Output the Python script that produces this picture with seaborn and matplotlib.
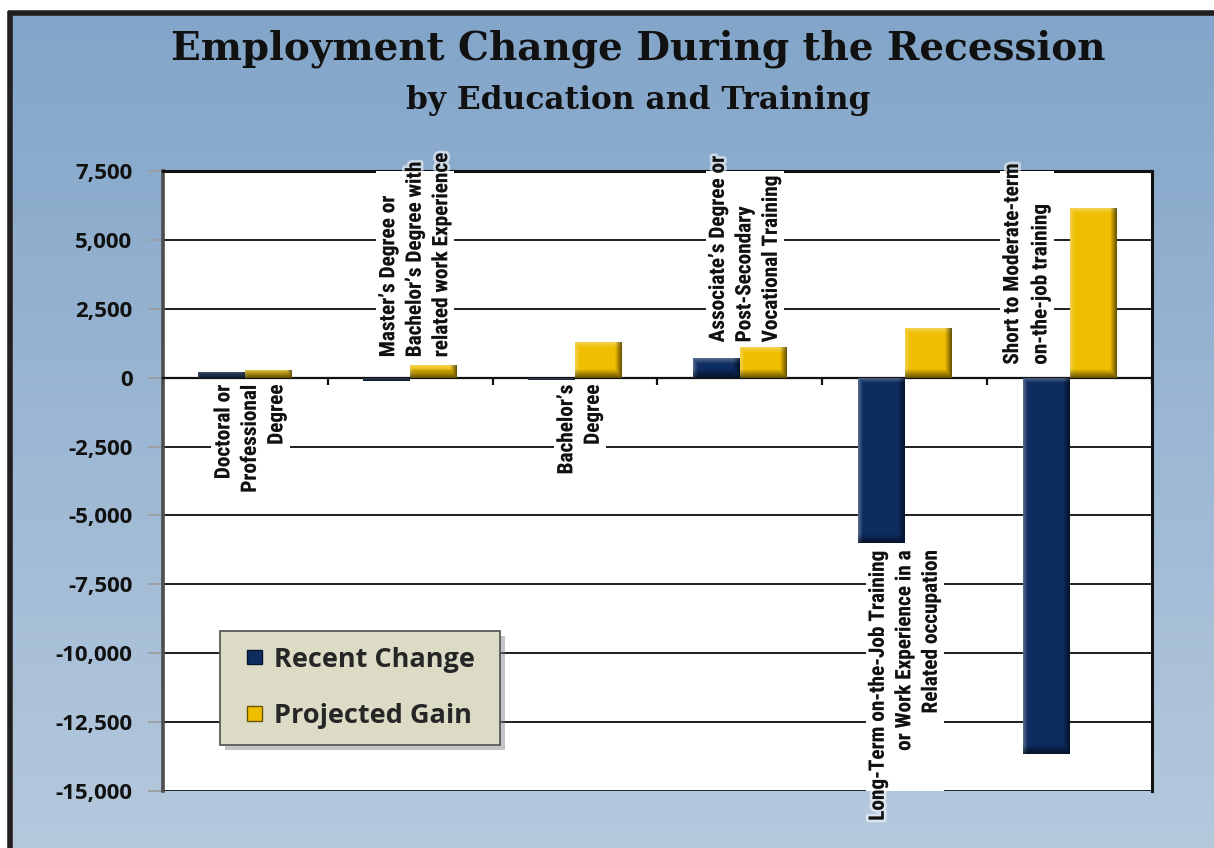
import numpy as np
import pandas as pd
import matplotlib
matplotlib.use("Agg")
import matplotlib.pyplot as plt
import matplotlib.patheffects as pe
import seaborn as sns
from matplotlib.patches import Patch, Rectangle
from matplotlib.ticker import FuncFormatter

# ---- data -------------------------------------------------------------
categories = [
    "Doctoral or\nProfessional\nDegree",
    "Master\u2019s Degree or\nBachelor\u2019s Degree with\nrelated work Experience",
    "Bachelor\u2019s\nDegree",
    "Associate\u2019s Degree or\nPost-Secondary\nVocational Training",
    "Long-Term on-the-Job Training\nor Work Experience in a\nRelated occupation",
    "Short to Moderate-term\non-the-job training",
]
recent_change = [190, -130, -70, 700, -6000, -13650]
projected_gain = [280, 450, 1280, 1100, 1800, 6150]
series_names = ["Recent Change", "Projected Gain"]
y_ticks = [7500, 5000, 2500, 0, -2500, -5000, -7500, -10000, -12500, -15000]

title = "Employment Change During the Recession"
subtitle = "by Education and Training"

# ---- style ------------------------------------------------------------
NAVY = "#0d2c60"
GOLD = "#efbe00"
NARROW = ["Roboto Condensed", "Liberation Sans Narrow", "Roboto", "DejaVu Sans"]
SERIF = ["DejaVu Serif Condensed", "DejaVu Serif"]
sns.set_theme(style="white")
plt.rcParams["font.family"] = ["Open Sans", "DejaVu Sans"]

W, H = 1214, 848
fig = plt.figure(figsize=(W / 100, H / 100), dpi=100)
fig.patch.set_facecolor("white")


def fx(px):
    return px / W


def fy(py):
    return 1 - py / H


# background panel: soft blue vertical gradient with a dark frame
bg = fig.add_axes([0, 0, 1, 1], zorder=0)
bg.set_xlim(0, W)
bg.set_ylim(H, 0)
bg.axis("off")
top_c = np.array([0x82, 0xa5, 0xc9]) / 255
bot_c = np.array([0xb5, 0xc9, 0xdd]) / 255
t = np.linspace(0, 1, 256)[:, None]
grad = top_c + (bot_c - top_c) * t
img = np.repeat(grad[:, None, :], 2, axis=1)
bg.imshow(img, extent=(10, W, H, 13), aspect="auto", interpolation="bilinear")
bg.plot([9.5, 9.5], [11, H], color="#231f20", lw=4.0, solid_capstyle="butt")
bg.plot([7.5, W], [12.5, 12.5], color="#231f20", lw=4.0, solid_capstyle="butt")

# ---- bars -------------------------------------------------------------
ax = fig.add_axes([fx(163), fy(791), fx(1152 - 163), (791 - 171) / H], zorder=2)
df = pd.DataFrame({
    "Category": categories * 2,
    "Series": [series_names[0]] * len(categories) + [series_names[1]] * len(categories),
    "Value": recent_change + projected_gain,
})
sns.barplot(data=df, x="Category", y="Value", hue="Series", order=categories,
            hue_order=series_names, palette=[NAVY, GOLD], saturation=1,
            width=0.57, legend=False, ax=ax, zorder=3, linewidth=0)

XLIM = (-0.5, len(categories) - 0.5)
YLIM = (-15000, 7500)
ax.set_xlim(*XLIM)
ax.set_ylim(*YLIM)


def bevel(patch):
    """Overlay a light top/left rim and a dark bottom/right rim on a bar."""
    x0, y0 = patch.get_x(), patch.get_y()
    w, h = patch.get_width(), patch.get_height()
    (ax0, ay0), (ax1, ay1) = ax.transData.transform([(x0, y0), (x0 + w, y0 + h)])
    pw, ph = int(round(abs(ax1 - ax0))), int(round(abs(ay1 - ay0)))
    if pw < 2 or ph < 2:
        return
    xs = np.arange(pw)[None, :] + 0.5
    ys = np.arange(ph)[:, None] + 0.5
    light = np.maximum(np.clip(1 - xs / 5, 0, 1), np.clip(1 - ys / 6, 0, 1)) * 0.32
    dark = np.maximum(np.clip(1 - (pw - xs) / 7, 0, 1), np.clip(1 - (ph - ys) / 9, 0, 1)) * 0.6
    light = np.broadcast_to(light, (ph, pw))
    dark = np.broadcast_to(dark, (ph, pw))
    ymin, ymax = min(y0, y0 + h), max(y0, y0 + h)
    ext = (x0, x0 + w, ymin, ymax)
    white = np.zeros((ph, pw, 4))
    white[..., :3] = 1
    white[..., 3] = light
    black = np.zeros((ph, pw, 4))
    black[..., 3] = dark
    for layer in (white, black):
        im = ax.imshow(layer, extent=ext, origin="upper", aspect="auto",
                       interpolation="nearest", zorder=3.5)
        im.set_clip_path(patch)


for p in list(ax.patches):
    bevel(p)

ax.set_xlim(*XLIM)
ax.set_ylim(*YLIM)
ax.set_facecolor("white")
ax.set_xlabel("")
ax.set_ylabel("")
ax.set_yticks(y_ticks)
ax.yaxis.set_major_formatter(FuncFormatter(lambda v, _: f"{v:,.0f}"))
ax.grid(axis="y", color="#1e1e1e", lw=1.4)
ax.grid(axis="x", visible=False)
ax.set_axisbelow(True)

ax.spines["left"].set_color("#4d4d4d")
ax.spines["left"].set_linewidth(2.6)
ax.spines["right"].set_color("#111111")
ax.spines["right"].set_linewidth(2.2)
ax.spines["top"].set_color("#111111")
ax.spines["top"].set_linewidth(2.2)
ax.spines["bottom"].set_position(("data", 0))
ax.spines["bottom"].set_color("#111111")
ax.spines["bottom"].set_linewidth(1.6)

ax.set_xticks(np.arange(-0.5, len(categories), 1.0))
ax.set_xticklabels([""] * (len(categories) + 1))
ax.tick_params(axis="x", bottom=True, direction="out", length=5, width=1.6, color="#111111")
ax.tick_params(axis="y", left=True, direction="out", length=11, width=1.2,
               color="#9c9c9c", pad=11, labelsize=16, labelcolor="#111111")
for lab in ax.get_yticklabels():
    lab.set_fontweight("bold")

# category captions set beside the bars: a white panel (kept inside the
# plot area) and the caption itself with a faint white glow
label_layout = [
    # (x offset, y anchor, vertical anchor, line alignment, line spacing)
    (0.03, -250, "top", "right", 1.5),
    (0.03, 740, "bottom", "left", 1.5),
    (0.03, -250, "top", "right", 1.5),
    (0.03, 1280, "bottom", "left", 1.5),
    (0.00, -6250, "top", "right", 1.5),
    (-0.26, 470, "bottom", "left", 1.62),
]
text_kw = dict(rotation=90, ha="center", family=NARROW, fontweight="bold", fontsize=15.3)
for i, (txt, (dx, y, va, ma, ls)) in enumerate(zip(categories, label_layout)):
    ax.text(i + dx, y, txt, va=va, multialignment=ma, color=(1, 1, 1, 0),
            linespacing=ls, zorder=5, clip_on=True,
            bbox=dict(boxstyle="square,pad=0.15", fc="white", ec="none"), **text_kw)
    ax.text(i + dx, y, txt, va=va, multialignment=ma, color="#111111",
            linespacing=ls, zorder=6, clip_on=False,
            path_effects=[pe.withStroke(linewidth=4, foreground=(1, 1, 1, 0.55))],
            **text_kw)

# ---- legend -----------------------------------------------------------
lx0, ly0, lx1, ly1 = 220, 631, 500, 745
fig.add_artist(Rectangle((fx(lx0 + 5), fy(ly1 + 5)), fx(lx1 - lx0), (ly1 - ly0) / H,
                         transform=fig.transFigure, fc="#7a7f86", ec="none",
                         alpha=0.45, zorder=5))
fig.add_artist(Rectangle((fx(lx0), fy(ly1)), fx(lx1 - lx0), (ly1 - ly0) / H,
                         transform=fig.transFigure, fc="#dcdbc6", ec="#5a5a5a",
                         lw=1.3, zorder=6))
handles = [Patch(fc=NAVY, ec="#06152f"), Patch(fc=GOLD, ec="#6b5400")]
leg = fig.legend(handles, series_names, loc="center left",
                 bbox_to_anchor=(fx(247), fy(688)), bbox_transform=fig.transFigure,
                 frameon=False, borderaxespad=0, borderpad=0,
                 prop={"family": "Open Sans", "weight": "bold", "size": 19.5},
                 handlelength=0.55, handleheight=0.45, handletextpad=0.45,
                 labelspacing=1.12)
leg.set_zorder(7)

# ---- titles -----------------------------------------------------------
fig.text(fx(638), fy(49), title, ha="center", va="center",
         family=SERIF, fontweight="bold", fontsize=28, color="#111111")
fig.text(fx(638), fy(101), subtitle, ha="center", va="center",
         family=SERIF, fontweight="bold", fontsize=22.5, color="#111111")

fig.savefig("out.png", dpi=100)
